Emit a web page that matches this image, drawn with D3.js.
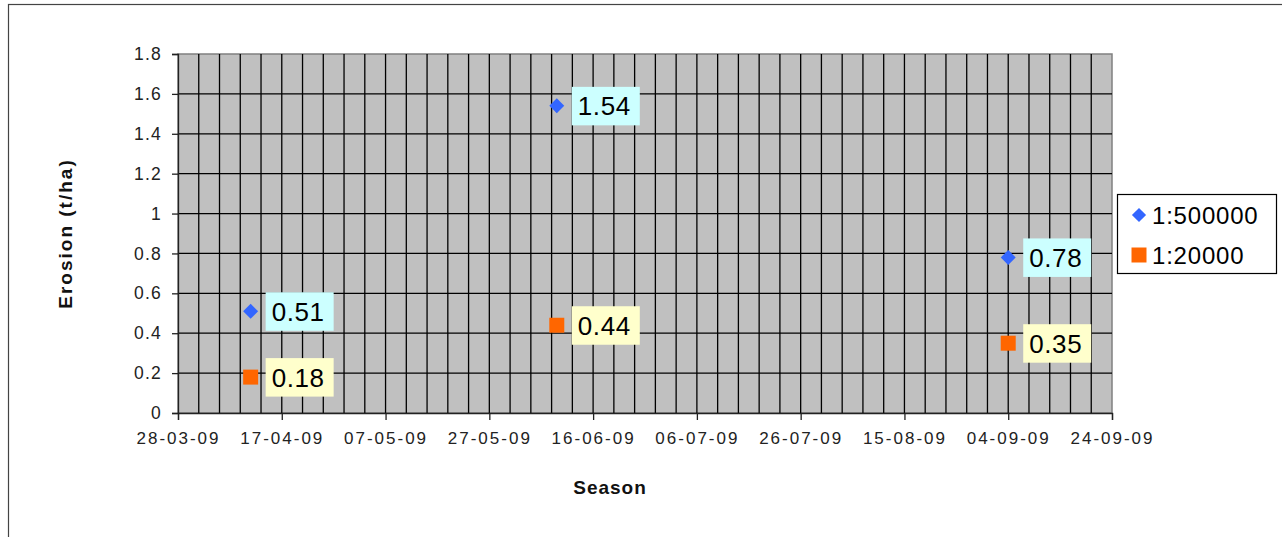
<!DOCTYPE html>
<html>
<head>
<meta charset="utf-8">
<script src="https://cdn.jsdelivr.net/npm/d3@7"></script>
<style>
  body { margin: 0; background: #fff; }
  svg { display: block; font-family: "Liberation Sans", Arial, sans-serif; }
</style>
</head>
<body>
<svg id="chart" width="1282" height="537"></svg>
<script>
// Erosion per sampling date, two map scales
const dates = ["2009-04-11", "2009-06-09", "2009-09-04"];
const scale500k = [0.51, 1.54, 0.78];
const scale20k = [0.18, 0.44, 0.35];
const seriesNames = ["1:500000", "1:20000"];
const yTicks = [0, 0.2, 0.4, 0.6, 0.8, 1, 1.2, 1.4, 1.6, 1.8];
const xTickLabels = ["28-03-09", "17-04-09", "07-05-09", "27-05-09", "16-06-09",
                     "06-07-09", "26-07-09", "15-08-09", "04-09-09", "24-09-09"];

const parse = d3.timeParse("%Y-%m-%d");
const parseTick = d3.timeParse("%d-%m-%y");
const fmt = d3.format(".2f");
const FONT = "'Liberation Sans', Arial, sans-serif";

const svg = d3.select("#chart");
const W = 1282, H = 537;

// outer frame
svg.append("rect").attr("x", 8.5).attr("y", 4.5).attr("width", W + 10).attr("height", H + 10)
  .attr("fill", "#fff").attr("stroke", "#444").attr("stroke-width", 1.2);

const plot = { left: 178, right: 1112, top: 54, bottom: 413 };
const x0 = parseTick(xTickLabels[0]), x1 = parseTick(xTickLabels[xTickLabels.length - 1]);
const x = d3.scaleTime().domain([x0, x1]).range([plot.left, plot.right]);
const y = d3.scaleLinear().domain([0, 1.8]).range([plot.bottom, plot.top]);

// plot background
svg.append("rect").attr("x", plot.left).attr("y", plot.top)
  .attr("width", plot.right - plot.left).attr("height", plot.bottom - plot.top)
  .attr("fill", "#c0c0c0").attr("stroke", "#808080").attr("stroke-width", 1.5);

// vertical gridlines every 4 days
const totalDays = Math.round((x1 - x0) / 864e5);
const vLines = d3.range(4, totalDays, 4).map(k => d3.timeDay.offset(x0, k));
svg.append("g").selectAll("line").data(vLines).join("line")
  .attr("x1", d => x(d)).attr("x2", d => x(d))
  .attr("y1", plot.top).attr("y2", plot.bottom)
  .attr("stroke", "#000").attr("stroke-width", 1.3);

// horizontal gridlines
svg.append("g").selectAll("line").data(yTicks.slice(1, -1)).join("line")
  .attr("x1", plot.left).attr("x2", plot.right)
  .attr("y1", d => y(d)).attr("y2", d => y(d))
  .attr("stroke", "#000").attr("stroke-width", 1.3);

// y axis
const yAxis = d3.axisLeft(y).tickValues(yTicks).tickSize(6).tickPadding(10)
  .tickFormat(d => String(d));
const gy = svg.append("g").attr("transform", `translate(${plot.left},0)`).call(yAxis);
gy.select(".domain").attr("stroke", "#222").attr("stroke-width", 1.3);
gy.selectAll(".tick line").attr("stroke", "#222").attr("stroke-width", 1.3);
gy.selectAll("text").attr("font-size", 17.5).attr("fill", "#222")
  .attr("letter-spacing", 1.2).attr("font-family", FONT);

// x axis
const xAxis = d3.axisBottom(x).tickValues(xTickLabels.map(parseTick)).tickSize(7).tickPadding(12)
  .tickFormat(d3.timeFormat("%d-%m-%y"));
const gx = svg.append("g").attr("transform", `translate(0,${plot.bottom})`).call(xAxis);
gx.select(".domain").attr("stroke", "#222").attr("stroke-width", 1.3);
gx.selectAll(".tick line").attr("stroke", "#222").attr("stroke-width", 1.3);
gx.selectAll("text").attr("font-size", 17).attr("fill", "#222")
  .attr("letter-spacing", 2).attr("font-family", FONT);

// axis titles
svg.append("text").attr("transform", `translate(72,${(plot.top + plot.bottom) / 2}) rotate(-90)`)
  .attr("text-anchor", "middle").attr("font-weight", "bold").attr("font-size", 19)
  .attr("letter-spacing", 2).attr("fill", "#111").text("Erosion (t/ha)");
svg.append("text").attr("x", 610).attr("y", 494)
  .attr("text-anchor", "middle").attr("font-weight", "bold").attr("font-size", 19)
  .attr("letter-spacing", 1).attr("fill", "#111").text("Season");

const diamond = { draw(ctx, size) {
  const r = Math.sqrt(size / 2);
  ctx.moveTo(0, -r); ctx.lineTo(r, 0); ctx.lineTo(0, r); ctx.lineTo(-r, 0); ctx.closePath();
} };

const series = [
  { name: seriesNames[0], values: scale500k, color: "#3366ff", symbol: diamond, size: 112, labelBg: "#ccffff" },
  { name: seriesNames[1], values: scale20k, color: "#ff6600", symbol: d3.symbolSquare, size: 225, labelBg: "#ffffcc" }
];

series.forEach(s => {
  const pts = dates.map((d, i) => ({ date: parse(d), v: s.values[i] }));
  const g = svg.append("g");
  g.selectAll("path").data(pts).join("path")
    .attr("transform", d => `translate(${x(d.date)},${y(d.v)})`)
    .attr("d", d3.symbol(s.symbol, s.size)).attr("fill", s.color);
  const lab = g.selectAll("g.lab").data(pts).join("g").attr("class", "lab")
    .attr("transform", d => `translate(${x(d.date) + 15},${y(d.v)})`);
  lab.append("rect").attr("x", 0).attr("y", -19).attr("width", 68).attr("height", 38.5)
    .attr("fill", s.labelBg);
  lab.append("text").attr("x", 6).attr("y", 9.5).attr("font-size", 26).attr("letter-spacing", 0.6)
    .attr("fill", "#000").text(d => fmt(d.v));
});

// legend
const leg = svg.append("g").attr("transform", "translate(1117,194)");
leg.append("rect").attr("x", 0.5).attr("y", 0.5).attr("width", 159).attr("height", 79)
  .attr("fill", "#fff").attr("stroke", "#000").attr("stroke-width", 1.2);
series.forEach((s, i) => {
  const cy = 21 + i * 40;
  leg.append("path").attr("transform", `translate(22,${cy})`)
    .attr("d", d3.symbol(s.symbol, s.size * (i === 0 ? 0.9 : 1))).attr("fill", s.color);
  leg.append("text").attr("x", 35).attr("y", cy + 9).attr("font-size", 24).attr("letter-spacing", 0.8)
    .attr("fill", "#000").text(s.name);
});
</script>
</body>
</html>
